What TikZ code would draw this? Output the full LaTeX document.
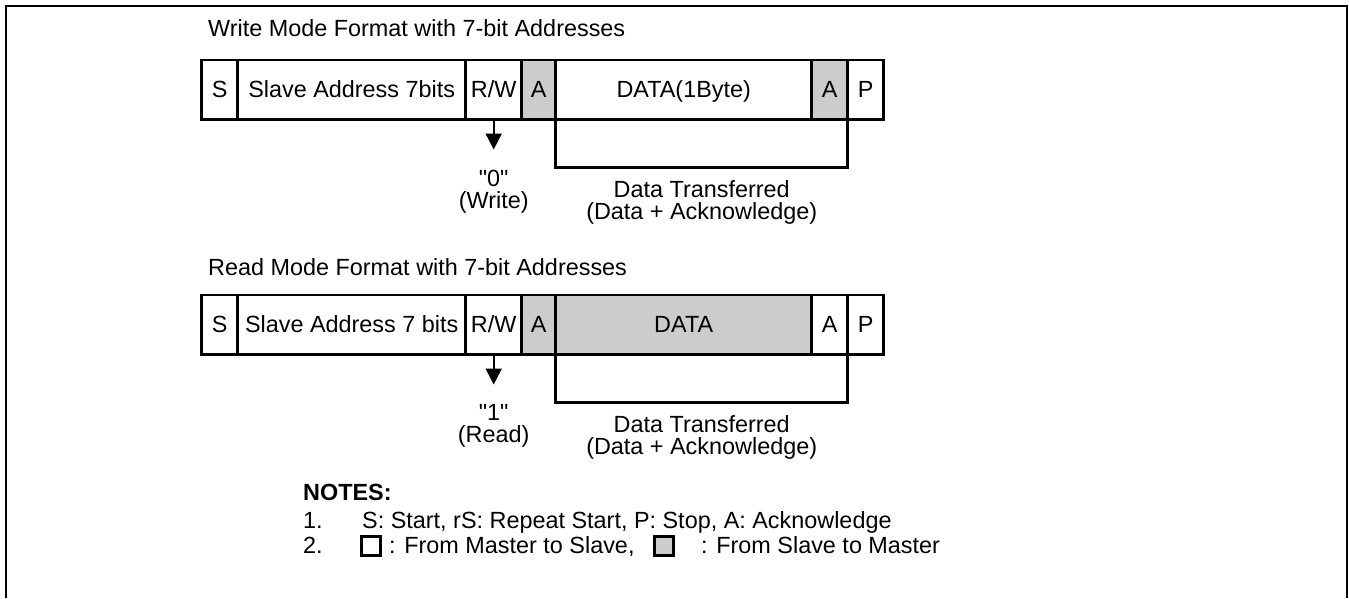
\documentclass[tikz,border=0pt]{standalone}
\usepackage{fontspec}
\setmainfont{Liberation Sans}[Ligatures=TeXOff]
\usetikzlibrary{positioning,arrows.meta}
\definecolor{slavegray}{RGB}{204,204,204}

\begin{document}
\begin{tikzpicture}[x=1pt, y=-1pt, node distance=0pt,
    font=\fontsize{23.4}{22}\selectfont,
    cell/.style={draw, line width=2.5pt, minimum height=59.5pt, inner sep=0pt, outer sep=0pt, text height=17pt, text depth=2.5pt},
    fromslave/.style={cell, fill=slavegray},
    flow/.style={line width=2pt, -{Triangle[width=16pt,length=16pt]}},
    bracket/.style={line width=2.5pt},
    lbl/.style={align=center, inner sep=0pt},
    note/.style={anchor=base west, inner sep=0pt},
    legend/.style={draw, line width=2.5pt, minimum size=19pt, inner sep=0pt}]
    \useasboundingbox (0,0) rectangle (1349,598);
    \draw[line width=2pt] (6,598) -- (6,6) -- (1347,6) -- (1347,598);

    \node[note] (wtitle) at (208,36) {Write Mode Format with 7-bit Addresses};
    \node[cell, minimum width=36pt, anchor=north west] (s1) at (201.7,60) {S};
    \node[cell, minimum width=228pt, right=of s1] (addr1) {Slave Address 7bits};
    \node[cell, minimum width=56pt, right=of addr1] (rw1) {R/W};
    \node[fromslave, minimum width=34pt, right=of rw1] (acka1) {A};
    \node[cell, minimum width=256pt, right=of acka1] (data1) {DATA(1Byte)};
    \node[fromslave, minimum width=36pt, right=of data1] (ackb1) {A};
    \node[cell, minimum width=36pt, right=of ackb1] (p1) {P};

    \coordinate[below=30pt of rw1.south] (tip1);
    \draw[flow] (rw1.south) -- (tip1);
    \node[lbl, below=20pt of tip1] (val1) {"0"\\(Write)};
    \coordinate[below=48pt of data1.south west] (brkl1);
    \coordinate[below=48pt of ackb1.south east] (brkr1);
    \draw[bracket] (data1.south west) -- (brkl1) -- (brkr1) node[midway, lbl, below=12pt] (xfer1) {Data Transferred\\(Data + Acknowledge)} -- (ackb1.south east);

    \node[note] (rtitle) at (208,275) {Read Mode Format with 7-bit Addresses};
    \node[cell, minimum width=36pt, anchor=north west] (s2) at (201.7,295) {S};
    \node[cell, minimum width=228pt, right=of s2] (addr2) {Slave Address 7 bits};
    \node[cell, minimum width=56pt, right=of addr2] (rw2) {R/W};
    \node[fromslave, minimum width=34pt, right=of rw2] (acka2) {A};
    \node[fromslave, minimum width=256pt, right=of acka2] (data2) {DATA};
    \node[cell, minimum width=36pt, right=of data2] (ackb2) {A};
    \node[cell, minimum width=36pt, right=of ackb2] (p2) {P};

    \coordinate[below=30pt of rw2.south] (tip2);
    \draw[flow] (rw2.south) -- (tip2);
    \node[lbl, below=20pt of tip2] (val2) {"1"\\(Read)};
    \coordinate[below=48pt of data2.south west] (brkl2);
    \coordinate[below=48pt of ackb2.south east] (brkr2);
    \draw[bracket] (data2.south west) -- (brkl2) -- (brkr2) node[midway, lbl, below=12pt] (xfer2) {Data Transferred\\(Data + Acknowledge)} -- (ackb2.south east);

    \node[note, font=\fontsize{23.4}{22}\selectfont\bfseries] (notes) at (303,500) {NOTES:};
    \node[note] (n1num) at (303,528) {1.};
    \node[note] (n1txt) at (362,528) {S: Start, rS: Repeat Start, P: Stop, A: Acknowledge};
    \node[note] (n2num) at (303,553) {2.};
    \node[legend] (mst) at (371,546) {};
    \node[note] (n2a) at (389,553) {: From Master to Slave,};
    \node[legend, fill=slavegray] (slv) at (664,546) {};
    \node[note] (n2b) at (701,553) {: From Slave to Master};
\end{tikzpicture}
\end{document}
